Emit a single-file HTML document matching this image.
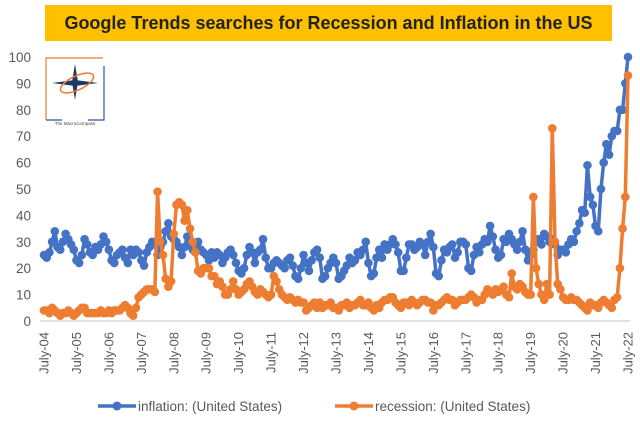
<!DOCTYPE html>
<html><head><meta charset="utf-8"><style>
html,body{margin:0;padding:0;background:#fff;width:640px;height:422px;overflow:hidden;font-family:"Liberation Sans",sans-serif}
#title{position:absolute;left:45px;top:5px;width:567px;height:36px;background:#FFC000;color:#222;font-weight:bold;font-size:18px;line-height:36px;text-align:center}
svg{position:absolute;left:0;top:0}
</style></head><body>
<div id="title">Google Trends searches for Recession and Inflation in the US</div>
<svg id="chart" width="640" height="422"></svg>
<script>
const yTicks=[0,10,20,30,40,50,60,70,80,90,100];
const xLabels=["July-04","July-05","July-06","July-07","July-08","July-09","July-10","July-11","July-12","July-13","July-14","July-15","July-16","July-17","July-18","July-19","July-20","July-21","July-22"];
const inflation=[
25,24,26,30,34,28,27,30,33,31,29,27,
23,22,25,31,29,26,25,28,27,29,32,30,
27,23,22,25,26,27,24,22,27,25,27,26,
23,21,26,28,30,29,25,28,30,34,37,32,
31,30,28,25,28,32,29,27,26,30,27,26,
25,23,26,24,26,25,22,24,26,27,25,22,
19,18,20,25,28,26,22,26,27,31,24,20,
20,22,23,22,21,20,23,24,21,17,16,20,
25,22,19,23,26,27,24,16,17,20,22,24,
22,16,17,19,21,24,22,23,26,25,27,30,
22,17,18,24,27,24,29,27,29,31,29,26,
19,19,24,29,29,27,28,30,29,25,30,33,
28,18,17,23,27,26,28,29,24,26,30,30,
29,20,19,25,28,26,29,31,30,36,32,27,
24,25,31,30,33,31,29,27,30,34,27,23,
25,27,30,31,29,33,32,30,31,29,25,27,
27,26,29,31,30,34,37,42,41,59,47,44,
36,34,50,60,67,63,70,72,72,80,80,90,
100];
const recession=[
4,4,3,5,4,3,2,3,3,4,3,2,
3,4,5,5,3,3,3,3,3,4,3,3,
4,3,4,4,4,5,6,5,3,2,5,9,
10,11,12,12,12,11,49,30,25,16,13,15,
33,44,45,44,38,42,35,30,26,19,18,20,
20,20,17,17,14,15,13,10,10,12,15,12,
10,11,12,14,15,13,11,10,12,11,10,9,
10,17,15,12,10,9,8,9,8,7,8,7,
7,4,5,6,7,5,7,5,6,6,7,5,
5,4,6,6,7,5,6,6,7,8,6,6,
7,5,4,6,5,7,8,8,9,9,7,6,
5,7,7,6,8,7,6,7,8,8,7,7,
4,6,6,7,8,9,8,8,6,7,8,8,
8,9,10,9,7,8,8,10,12,11,10,12,
11,12,13,10,9,18,13,12,14,13,11,10,
10,47,20,14,10,8,14,10,73,30,14,12,
9,8,8,9,8,8,7,6,5,4,7,6,
6,5,7,8,7,6,5,8,9,20,35,47,
93];
const NS="http://www.w3.org/2000/svg";
const svg=document.getElementById('chart');
const x0=44,x1=628,y0=321,y100=57;
const xs=i=>x0+(x1-x0)*i/(inflation.length-1);
const ys=v=>y0-(y0-y100)*v/100;
function mk(tag,attrs,parent){const e=document.createElementNS(NS,tag);for(const k in attrs)e.setAttribute(k,attrs[k]);(parent||svg).appendChild(e);return e;}
const logo=mk('g',{});


mk('path',{d:'M103 58 H46 V120',stroke:'#ED7D31','stroke-width':1.2,fill:'none'},logo);
mk('path',{d:'M46 120 H62 M88 120 H104 V66',stroke:'#2F5597','stroke-width':1.2,fill:'none'},logo);
mk('polygon',{points:'75,64 78,82 75,100 72,82',fill:'#1F3864'},logo);
mk('polygon',{points:'52,83 75,80 98,83 75,86',fill:'#1F3864'},logo);
mk('ellipse',{cx:77,cy:83,rx:18,ry:7,fill:'none',stroke:'#ED7D31','stroke-width':1.5,transform:'rotate(-25 77 83)'},logo);
const lt=mk('text',{x:75,y:125,'font-size':4.5,'text-anchor':'middle',fill:'#444','font-family':'Liberation Sans, sans-serif'},logo);lt.textContent='The MacroCompass';
yTicks.forEach(t=>{const e=mk('text',{x:31,y:ys(t)+5,'text-anchor':'end','font-size':13.5,fill:'#595959'});e.textContent=t;

});
const ax=mk('line',{x1:40,x2:630,y1:y0,y2:y0,stroke:'#D9D9D9','stroke-width':1.5});


xLabels.forEach((l,k)=>{const x=xs(k*12);const e=mk('text',{x:0,y:0,'text-anchor':'end','font-size':13,fill:'#595959',transform:`translate(${x+4.5},332) rotate(-90)`});e.textContent=l;

});
function series(arr,color,name){
  const g=mk('g',{});
  
  
  mk('polyline',{points:arr.map((v,i)=>xs(i)+','+ys(v)).join(' '),fill:'none',stroke:color,'stroke-width':3.5,'stroke-linejoin':'round'},g);
  arr.forEach((v,i)=>{const c=mk('circle',{cx:xs(i),cy:ys(v),r:4.3,fill:color},g);
  
  });
}
series(inflation,'#4472C4','inflation-series');
series(recession,'#ED7D31','recession-series');
function leg(x,color,label,name){const g=mk('g',{});


mk('line',{x1:x,x2:x+38,y1:406,y2:406,stroke:color,'stroke-width':3.5},g);
mk('circle',{cx:x+19,cy:406,r:4.5,fill:color},g);
const t=mk('text',{x:x+40,y:411,'font-size':13.5,fill:'#595959'},g);t.textContent=label;}
leg(98,'#4472C4','inflation: (United States)','legend-inflation');
leg(335,'#ED7D31','recession: (United States)','legend-recession');
</script>
</body></html>
